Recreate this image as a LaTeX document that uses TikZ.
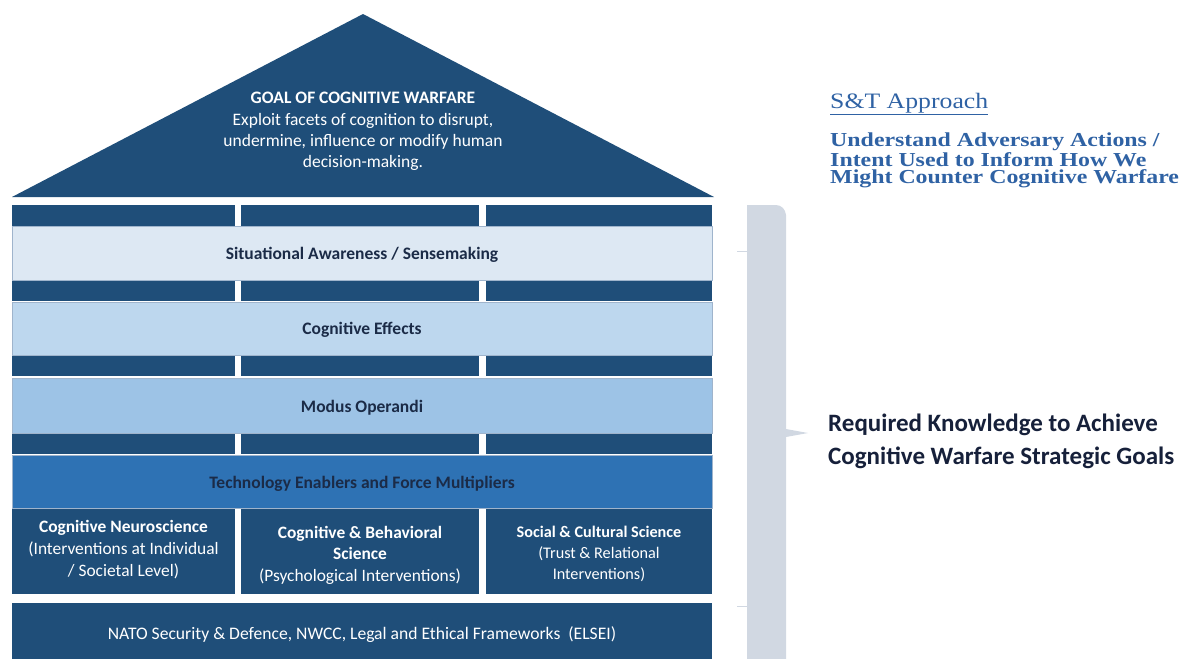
\documentclass[tikz,border=0pt]{standalone}
\usepackage{fontspec}
\setmainfont{Carlito}
\newfontfamily\blueserif{Liberation Serif}
\definecolor{navy}{HTML}{1F4E79}
\definecolor{sacol}{HTML}{DDE8F3}
\definecolor{cecol}{HTML}{BDD7EE}
\definecolor{mocol}{HTML}{9DC3E6}
\definecolor{techcol}{HTML}{2E72B4}
\definecolor{darktext}{HTML}{1B2B47}
\definecolor{bandline}{HTML}{9FB4CC}
\definecolor{bracketcol}{HTML}{D1D8E2}
\definecolor{stblue}{HTML}{2F62A4}
\definecolor{reqtext}{HTML}{16203A}
\begin{document}
\begin{tikzpicture}[x=1pt,y=-1pt,
  band/.style={rectangle, inner sep=0pt, anchor=north west, draw=bandline, line width=0.5pt,
    minimum width=700pt},
  bandtext/.style={inner sep=0pt, font=\fontsize{17.5}{21}\selectfont\bfseries, text=darktext},
  strip/.style={rectangle, fill=navy, inner sep=0pt, anchor=north west, minimum height=21pt},
  colbox/.style={rectangle, fill=navy, inner sep=0pt, anchor=north west, minimum height=85pt},
  wtext/.style={text=white, align=center, inner sep=0pt}]
\useasboundingbox (0,0) rectangle (1195,659);

% roof
\fill[navy] (12,197) -- (363,14) -- (714,197) -- cycle;
\node[wtext, font=\fontsize{17.5}{21.3}\selectfont] (goal) at (363,131.5)
  {\textbf{GOAL OF COGNITIVE WARFARE}\\Exploit facets of cognition to disrupt,\\undermine, influence or modify human\\decision-making.};

% dark strips between pillars
\foreach \y/\n in {205/a,280/b,355/c,433/d}{
  \node[strip, minimum width=223pt] (s\n1) at (12,\y) {};
  \node[strip, minimum width=238pt] (s\n2) at (241,\y) {};
  \node[strip, minimum width=226pt] (s\n3) at (486,\y) {};
}

% bands
\node[band, fill=sacol, minimum height=54pt] (sa) at (12,226) {};
\node[band, fill=cecol, minimum height=53pt] (ce) at (12,302) {};
\node[band, fill=mocol, minimum height=55pt] (mo) at (12,378) {};
\node[band, fill=techcol, minimum height=53pt] (tech) at (12,455) {};
\node[bandtext] (satext) at (362,255) {Situational Awareness / Sensemaking};
\node[bandtext] (cetext) at (362,330) {Cognitive Effects};
\node[bandtext] (motext) at (362,408) {Modus Operandi};
\node[bandtext] (techtext) at (362,484) {Technology Enablers and Force Multipliers};

% columns
\node[colbox, minimum width=223pt] (c1) at (12,509) {};
\node[colbox, minimum width=238pt] (c2) at (241,509) {};
\node[colbox, minimum width=226pt] (c3) at (486,509) {};
\node[wtext, font=\fontsize{17.4}{22}\selectfont] (c1text) at (123.5,550)
  {\textbf{Cognitive Neuroscience}\\(Interventions at Individual\\/ Societal Level)};
\node[wtext, font=\fontsize{17.4}{21.5}\selectfont] (c2text) at (360,555)
  {\textbf{Cognitive \& Behavioral}\\\textbf{Science}\\(Psychological Interventions)};
\node[wtext, font=\fontsize{16.2}{21}\selectfont] (c3text) at (599,554)
  {\textbf{Social \& Cultural Science}\\(Trust \& Relational\\Interventions)};

% foundation
\node[rectangle, fill=navy, inner sep=0pt, anchor=north west, minimum width=700pt, minimum height=60pt] (nato) at (12,603) {};
\node[wtext, font=\fontsize{17.6}{20}\selectfont] (natotext) at (362,635)
  {NATO Security \& Defence, NWCC, Legal and Ethical Frameworks\ \ (ELSEI)};

% bracket
\fill[bracketcol] (747,205) -- (776,205) to[out=0,in=95] (786,215) -- (786,429)
  -- (808,433) -- (786,437) -- (786,659) -- (747,659) -- cycle;
\coordinate (t1) at (737,251);
\coordinate (t1e) at (747,251);
\coordinate (t2) at (737,606);
\coordinate (t2e) at (747,606);
\draw[bracketcol, line width=0.8pt] (t1) -- (t1e);
\draw[bracketcol, line width=0.8pt] (t2) -- (t2e);

% right texts
\node[anchor=base west, inner sep=0pt, text=stblue, xscale=1.17, transform shape,
  font=\blueserif\fontsize{22}{22}\selectfont] (st) at (830,108)
  {\underline{S\&T Approach}};
\node[anchor=north west, inner sep=0pt, text=stblue, align=left, xscale=1.205, transform shape,
  font=\blueserif\bfseries\fontsize{19.8}{17.5}\selectfont] (understand) at (830,133)
  {Understand Adversary Actions /\\Intent Used to Inform How We\\Might Counter Cognitive Warfare};
\node[anchor=north west, inner sep=0pt, text=reqtext, align=left,
  font=\fontsize{25}{33}\selectfont\bfseries] (req) at (828,414)
  {Required Knowledge to Achieve\\Cognitive Warfare Strategic Goals};
\end{tikzpicture}
\end{document}
